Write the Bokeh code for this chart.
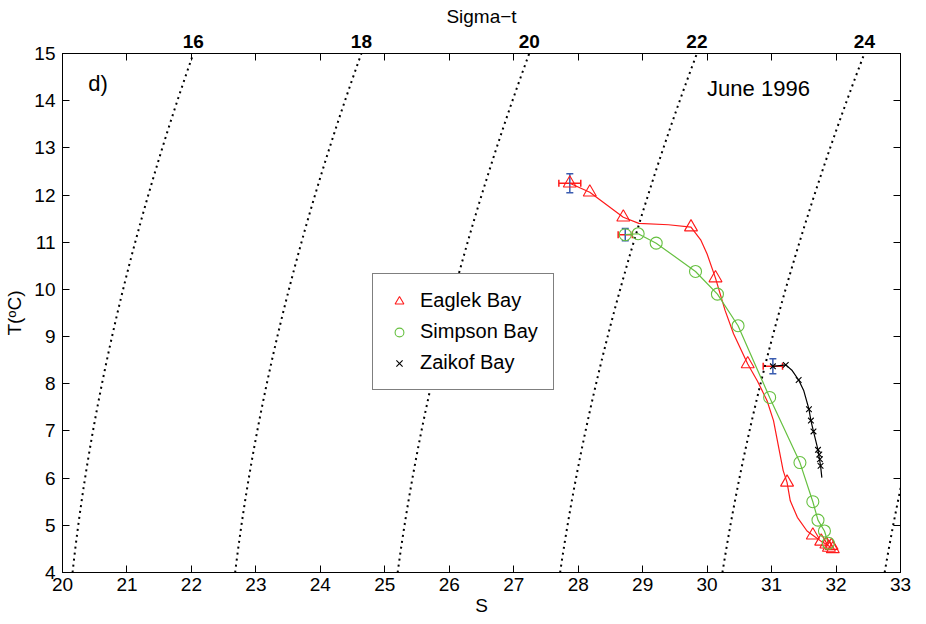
import numpy as np
from bokeh.plotting import figure
from bokeh.models import (ColumnDataSource, LinearAxis, FixedTicker, CustomJSTickFormatter,
                          Legend, LegendItem, Whisker, TeeHead, Label, Range1d)
from bokeh.embed import file_html
from bokeh.resources import INLINE

# ---------------- data ----------------
s_ticks = list(range(20, 34))
t_ticks = list(range(4, 16))
sigma_levels = [16, 18, 20, 22, 24, 26]
sigma_top_labels = ["16", "18", "20", "22", "24"]

# Eaglek Bay (markers)
eaglek_s = [27.87, 28.18, 28.70, 29.75, 30.13, 30.63, 31.24, 31.64, 31.77, 31.85, 31.89, 31.93, 31.95]
eaglek_t = [12.25, 12.06, 11.53, 11.32, 10.24, 8.42, 5.91, 4.79, 4.66, 4.60, 4.53, 4.57, 4.50]
# Eaglek Bay (profile line)
eaglek_line_s = [27.87, 28.18, 28.70, 28.94, 29.40, 29.75, 29.90, 30.00, 30.13, 30.28, 30.41,
                 30.63, 30.78, 30.93, 31.03, 31.11, 31.18, 31.24, 31.29, 31.40, 31.55, 31.64,
                 31.77, 31.85, 31.92]
eaglek_line_t = [12.25, 12.06, 11.53, 11.40, 11.37, 11.32, 11.05, 10.75, 10.24, 9.55, 9.06,
                 8.42, 8.06, 7.64, 7.22, 6.65, 6.16, 5.91, 5.52, 5.17, 4.88, 4.79,
                 4.66, 4.60, 4.53]

# Simpson Bay
simpson_s = [28.73, 28.93, 29.21, 29.82, 30.16, 30.48, 30.97, 31.44, 31.64, 31.72, 31.82, 31.88]
simpson_t = [11.16, 11.18, 10.98, 10.38, 9.90, 9.23, 7.71, 6.33, 5.50, 5.11, 4.88, 4.62]

# Zaikof Bay
zaikof_s = [31.02, 31.22, 31.42, 31.58, 31.61, 31.65, 31.72, 31.74, 31.75, 31.76]
zaikof_t = [8.37, 8.40, 8.08, 7.46, 7.22, 6.99, 6.60, 6.50, 6.40, 6.26]
zaikof_line_s = [31.02, 31.22, 31.32, 31.42, 31.50, 31.58, 31.61, 31.65, 31.72, 31.76, 31.78]
zaikof_line_t = [8.37, 8.40, 8.28, 8.08, 7.85, 7.46, 7.22, 6.99, 6.60, 6.26, 6.01]

# error bars on the first point of each bay
err_center_s = [27.87, 28.73, 31.02]
err_center_t = [12.25, 11.16, 8.37]
err_s = [0.17, 0.11, 0.15]
err_t = [0.20, 0.13, 0.16]

RED = "#ff1a1a"
GREEN = "#66c040"
BLACK = "#000000"
BLUE = "#3a5cb0"
FONT = "Liberation Sans"


# ---------------- sigma-t (UNESCO 1980, p = 0) ----------------
def sigma_t(S, T):
    rw = (999.842594 + 6.793952e-2 * T - 9.095290e-3 * T ** 2 + 1.001685e-4 * T ** 3
          - 1.120083e-6 * T ** 4 + 6.536332e-9 * T ** 5)
    A = 8.24493e-1 - 4.0899e-3 * T + 7.6438e-5 * T ** 2 - 8.2467e-7 * T ** 3 + 5.3875e-9 * T ** 4
    B = -5.72466e-3 + 1.0227e-4 * T - 1.6546e-6 * T ** 2
    C = 4.8314e-4
    return rw + A * S + B * S ** 1.5 + C * S ** 2 - 1000.0


def salinity_for(sig, T):
    T = np.asarray(T, dtype=float)
    lo = np.zeros_like(T)
    hi = np.full_like(T, 45.0)
    for _ in range(60):
        mid = 0.5 * (lo + hi)
        f = sigma_t(mid, T) - sig
        hi = np.where(f > 0, mid, hi)
        lo = np.where(f > 0, lo, mid)
    return 0.5 * (lo + hi)


p = figure(width=926, height=624, x_range=Range1d(20, 33), y_range=Range1d(4, 15),
           output_backend="svg", toolbar_location=None,
           min_border_left=62, min_border_right=26, min_border_top=53, min_border_bottom=52)
p.background_fill_color = "white"
p.border_fill_color = "white"
p.outline_line_color = "black"
p.outline_line_width = 1
p.grid.visible = False

# isopycnals
t_grid = np.linspace(4, 15, 60)
for sig in sigma_levels:
    p.line(salinity_for(sig, t_grid), t_grid, line_color="black", line_width=2,
           line_dash="2 4")

# profile lines
p.line(eaglek_line_s, eaglek_line_t, line_color=RED, line_width=1.2)
p.line(simpson_s, simpson_t, line_color=GREEN, line_width=1.2)
p.line(zaikof_line_s, zaikof_line_t, line_color=BLACK, line_width=1.2)

# markers
r_e = p.scatter(eaglek_s, eaglek_t, marker="triangle", size=13, fill_color=None,
                line_color=RED, line_width=1.1)
r_s = p.scatter(simpson_s, simpson_t, marker="circle", size=12, fill_color=None,
                line_color=GREEN, line_width=1.1)
r_z = p.scatter(zaikof_s, zaikof_t, marker="x", size=8, line_color=BLACK, line_width=1.1)

# error bars
es = np.array(err_center_s)
et = np.array(err_center_t)
src_h = ColumnDataSource(dict(base=et, lower=es - np.array(err_s), upper=es + np.array(err_s)))
src_v = ColumnDataSource(dict(base=es, lower=et - np.array(err_t), upper=et + np.array(err_t)))
p.add_layout(Whisker(source=src_h, base="base", lower="lower", upper="upper", dimension="width",
                     line_color=RED, line_width=1.5,
                     upper_head=TeeHead(size=7, line_color=RED, line_width=1.5),
                     lower_head=TeeHead(size=7, line_color=RED, line_width=1.5)))
p.add_layout(Whisker(source=src_v, base="base", lower="lower", upper="upper", dimension="height",
                     line_color=BLUE, line_width=1.5,
                     upper_head=TeeHead(size=7, line_color=BLUE, line_width=1.5),
                     lower_head=TeeHead(size=7, line_color=BLUE, line_width=1.5)))

# axes
def style_axis(ax):
    ax.major_label_text_font = FONT
    ax.major_label_text_font_size = "19px"
    ax.major_label_text_color = "black"
    ax.axis_label_text_font = FONT
    ax.axis_label_text_font_size = "19px"
    ax.axis_label_text_font_style = "normal"
    ax.axis_label_text_color = "black"
    ax.axis_line_color = "black"
    ax.major_tick_line_color = "black"
    ax.minor_tick_line_color = "black"

xa = p.xaxis[0]
xa.ticker = FixedTicker(ticks=s_ticks)
xa.axis_label = "S"
style_axis(xa)
xa.major_tick_in = 7
xa.major_tick_out = 0
xa.minor_tick_line_color = None
xa.major_label_standoff = 5
xa.axis_label_standoff = 1

ya = p.yaxis[0]
ya.ticker = FixedTicker(ticks=t_ticks)
ya.axis_label = "T(\u1d52C)"
style_axis(ya)
ya.major_tick_in = 7
ya.major_tick_out = 0
ya.minor_tick_line_color = None
ya.major_label_standoff = 7
ya.axis_label_standoff = 6

# right axis (mirror ticks)
ra = LinearAxis(ticker=FixedTicker(ticks=t_ticks),
                formatter=CustomJSTickFormatter(code="return '';"))
style_axis(ra)
ra.major_tick_in = 7
ra.major_tick_out = 0
ra.minor_tick_line_color = None
ra.major_label_text_font_size = "1px"
p.add_layout(ra, "right")

# top axis: sigma-t labels at the T=15 crossing of each isopycnal, integer S mirror ticks
top_pos = [float(salinity_for(float(lab), np.array([15.0]))[0]) for lab in sigma_top_labels]
ta = LinearAxis(ticker=FixedTicker(ticks=top_pos, minor_ticks=s_ticks),
                formatter=CustomJSTickFormatter(
                    args=dict(pos=top_pos, labs=sigma_top_labels),
                    code="for (let i = 0; i < pos.length; i++) { if (Math.abs(pos[i] - tick) < 1e-6) return labs[i]; } return '';"))
style_axis(ta)
ta.axis_label = "Sigma\u2212t"
ta.major_label_text_font_style = "bold"
ta.major_tick_in = 0
ta.major_tick_out = 0
ta.minor_tick_in = 7
ta.minor_tick_out = 0
ta.major_label_standoff = 6
ta.axis_label_standoff = 5
p.add_layout(ta, "above")

# legend
legend = Legend(items=[LegendItem(label="Eaglek Bay", renderers=[r_e]),
                       LegendItem(label="Simpson Bay", renderers=[r_s]),
                       LegendItem(label="Zaikof Bay", renderers=[r_z])],
                location=(310, 182))
legend.border_line_color = "black"
legend.border_line_width = 1
legend.background_fill_color = "white"
legend.background_fill_alpha = 1
legend.padding = 15
legend.spacing = 8
legend.margin = 0
legend.label_height = 22
legend.glyph_height = 22
legend.glyph_width = 22
legend.label_standoff = 10
legend.label_text_font = FONT
legend.label_text_font_size = "20px"
legend.label_text_color = "black"
p.add_layout(legend)

# annotations
p.add_layout(Label(x=20.40, y=14.36, text="d)", text_baseline="middle", text_font=FONT,
                   text_font_size="22px", text_color="black"))
p.add_layout(Label(x=30.0, y=14.26, text="June 1996", text_baseline="middle", text_font=FONT,
                   text_font_size="22px", text_color="black"))

open("out.html", "w").write(file_html(p, INLINE))
